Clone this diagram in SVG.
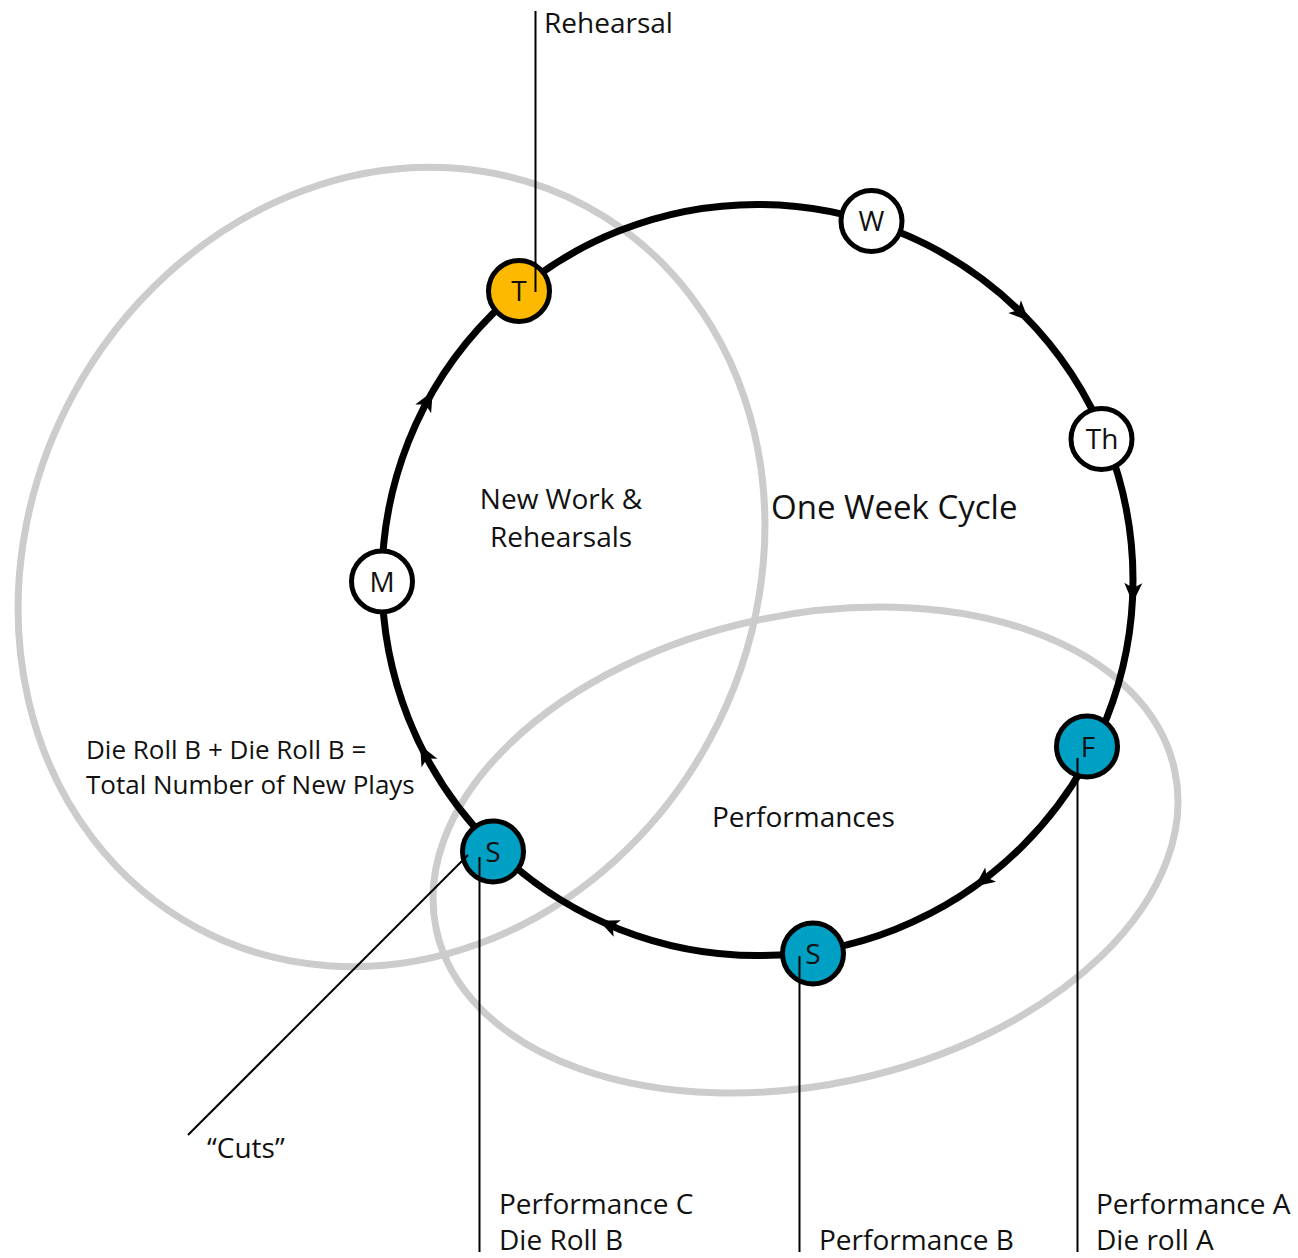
<svg xmlns="http://www.w3.org/2000/svg" width="1298" height="1258" viewBox="0 0 1298 1258">
<style>
text{font-family:"Open Sans","Noto Sans","Liberation Sans",sans-serif;fill:#111;}
.lbl{font-size:28px;}
.node circle{stroke:#000;stroke-width:5;}
.node text{font-size:28px;text-anchor:middle;}
.ell{fill:none;stroke:#cccccc;stroke-width:7;}
.ring{fill:none;stroke:#000;stroke-width:7;}
.lead{stroke:#000;stroke-width:2;fill:none;}
.w{fill:#fff;}
.y{fill:#FDB900;}
.b{fill:#00A0C4;}
</style>
<defs>
<path id="ah" d="M11,0 L-9,-9 L-4,0 L-9,9 Z" fill="#000"/>
</defs>
<rect width="1298" height="1258" fill="#fff"/>
<g id="sets">
<ellipse class="ell" cx="391.5" cy="567" rx="362" ry="410" transform="rotate(28.4 391.5 567)"/>
<ellipse class="ell" cx="805.5" cy="850" rx="377.7" ry="234.8" transform="rotate(-12.2 805.5 850)"/>
</g>
<g id="connectors">
<circle class="ring" cx="757.5" cy="580" r="375.5"/>
<use href="#ah" transform="translate(1021,313) rotate(44.6)"/>
<use href="#ah" transform="translate(1133,592) rotate(92)"/>
<use href="#ah" transform="translate(983.5,880) rotate(143)"/>
<use href="#ah" transform="translate(609,925) rotate(203.3)"/>
<use href="#ah" transform="translate(425.3,755) rotate(242.2)"/>
<use href="#ah" transform="translate(427.5,401) rotate(-61.5)"/>
</g>
<g id="node-T" class="node"><circle class="y" cx="519" cy="291" r="30.5"/><text x="519" y="301">T</text></g>
<g id="node-W" class="node"><circle class="w" cx="871.5" cy="221" r="30.5"/><text x="871.5" y="231">W</text></g>
<g id="node-Th" class="node"><circle class="w" cx="1101.5" cy="439" r="30.5"/><text x="1102" y="449">Th</text></g>
<g id="node-F" class="node"><circle class="b" cx="1087" cy="746.5" r="30.5"/><text x="1088" y="756.5">F</text></g>
<g id="node-S2" class="node"><circle class="b" cx="813" cy="953.5" r="30.5"/><text x="813" y="963.5">S</text></g>
<g id="node-S1" class="node"><circle class="b" cx="493" cy="851.5" r="30.5"/><text x="493" y="861.5">S</text></g>
<g id="node-M" class="node"><circle class="w" cx="382" cy="581.5" r="30.5"/><text x="382" y="591.5">M</text></g>
<g id="leaders">
<line class="lead" x1="535.5" y1="11" x2="535.5" y2="292"/>
<line class="lead" x1="1077.5" y1="758" x2="1077.5" y2="1252"/>
<line class="lead" x1="799.5" y1="956" x2="799.5" y2="1252"/>
<line class="lead" x1="479.5" y1="857" x2="479.5" y2="1252"/>
<line class="lead" x1="468" y1="855" x2="188" y2="1135"/>
</g>
<g id="labels">
<text class="lbl" x="544" y="33">Rehearsal</text>
<text class="lbl" x="561" y="509" text-anchor="middle">New Work &amp;</text>
<text class="lbl" x="561" y="547" text-anchor="middle">Rehearsals</text>
<text x="771" y="519" font-size="33">One Week Cycle</text>
<text x="86" y="759" font-size="26">Die Roll B + Die Roll B =</text>
<text x="86" y="794" font-size="26">Total Number of New Plays</text>
<text class="lbl" x="712" y="827">Performances</text>
<text class="lbl" x="207" y="1158">“Cuts”</text>
<text class="lbl" x="499" y="1214">Performance C</text>
<text class="lbl" x="499" y="1250">Die Roll B</text>
<text class="lbl" x="819" y="1250">Performance B</text>
<text class="lbl" x="1096" y="1214">Performance A</text>
<text class="lbl" x="1096" y="1250">Die roll A</text>
</g>
</svg>
